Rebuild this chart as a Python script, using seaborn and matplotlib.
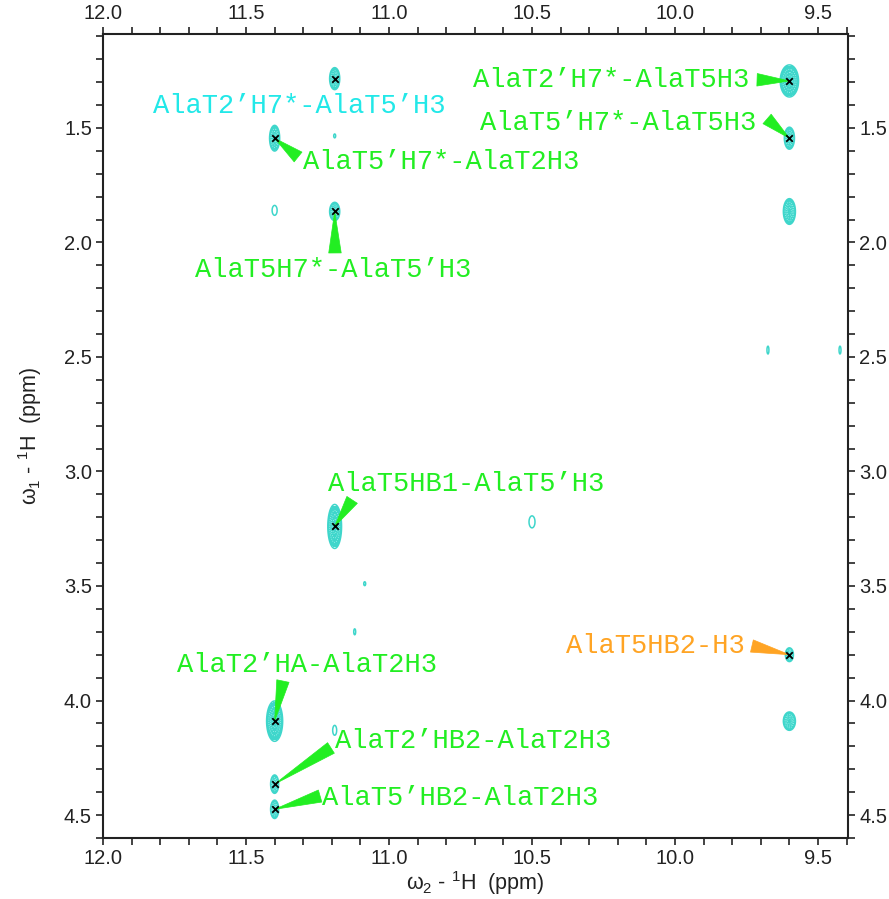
import numpy as np
import matplotlib
matplotlib.use("Agg")
import matplotlib.pyplot as plt
from matplotlib.ticker import MultipleLocator, FormatStrFormatter
import seaborn as sns
import pandas as pd

# Cross peaks: direct (w2) and indirect (w1) chemical shifts in ppm,
# relative height and Gaussian line widths (sd, ppm) along each dimension
peak_w2 = [11.19, 11.40, 11.40, 11.19, 11.19, 9.60, 9.60, 9.60, 9.675, 9.423,
           11.19, 10.50, 11.085, 11.12, 9.60, 9.60, 11.40, 11.19, 11.40, 11.40]
peak_w1 = [1.285, 1.545, 1.86, 1.865, 1.535, 1.295, 1.545, 1.865, 2.47, 2.47,
           3.24, 3.22, 3.49, 3.70, 3.80, 4.09, 4.09, 4.13, 4.365, 4.475]
peak_height = [7.4, 7.4, 1.15, 7.4, 1.15, 7.4, 7.4, 7.4, 1.15, 1.15,
               7.4, 1.15, 1.15, 1.15, 7.4, 7.4, 7.4, 1.15, 7.4, 7.4]
peak_sd2 = [0.0088, 0.0088, 0.0166, 0.0088, 0.0066, 0.016, 0.0088, 0.0105, 0.0066, 0.0066,
            0.012, 0.0198, 0.0066, 0.0066, 0.007, 0.0105, 0.014, 0.0132, 0.007, 0.007]
peak_sd1 = [0.024, 0.028, 0.041, 0.020, 0.0165, 0.035, 0.024, 0.028, 0.033, 0.033,
            0.048, 0.0496, 0.0165, 0.025, 0.015, 0.020, 0.044, 0.041, 0.020, 0.020]

# Assigned cross peaks
assign_labels = ["AlaT2’H7*-AlaT5’H3", "AlaT5’H7*-AlaT2H3", "AlaT5H7*-AlaT5’H3",
                 "AlaT2’H7*-AlaT5H3", "AlaT5’H7*-AlaT5H3", "AlaT5HB1-AlaT5’H3",
                 "AlaT5HB2-H3", "AlaT2’HA-AlaT2H3", "AlaT2’HB2-AlaT2H3",
                 "AlaT5’HB2-AlaT2H3"]
assign_w2 = [11.19, 11.40, 11.19, 9.60, 9.60, 11.19, 9.60, 11.40, 11.40, 11.40]
assign_w1 = [1.285, 1.545, 1.865, 1.295, 1.545, 3.24, 3.80, 4.09, 4.365, 4.475]

# Label placement (ppm) and where each pointer wedge starts
label_xy = [(11.825, 1.404), (11.301, 1.648), (11.678, 2.120), (10.706, 1.290),
            (10.682, 1.478), (11.213, 3.055), (10.381, 3.762), (11.741, 3.845),
            (11.189, 4.177), (11.234, 4.426)]
wedge_from = [None, (11.318, 1.627), (11.189, 2.046), (9.713, 1.290),
              (9.678, 1.461), (11.129, 3.124), (9.731, 3.762), (11.371, 3.915),
              (11.203, 4.207), (11.241, 4.417)]

CYAN = "#22e8e8"
GREEN = "#22ee22"
ORANGE = "#ffa424"
TURQ = "#3fd6cb"
label_colors = [CYAN] + [GREEN] * 5 + [ORANGE] + [GREEN] * 3

sns.set_theme(style="ticks")
plt.rcParams["font.family"] = ["Liberation Sans", "DejaVu Sans"]
plt.rcParams["mathtext.fontset"] = "custom"
plt.rcParams["mathtext.rm"] = "Liberation Sans"
plt.rcParams["mathtext.it"] = "Liberation Sans:italic"

fig = plt.figure(figsize=(8.89, 8.99), dpi=100)
ax = fig.add_axes([0.1159, 0.0679, 0.838, 0.8943])

# Spectrum surface from the peak table
gx = np.linspace(9.35, 12.05, 1400)
gy = np.linspace(1.05, 4.65, 1300)
X, Y = np.meshgrid(gx, gy)
Z = np.zeros_like(X)
for x0, y0, h, s2, s1 in zip(peak_w2, peak_w1, peak_height, peak_sd2, peak_sd1):
    Z += h * np.exp(-0.5 * (((X - x0) / s2) ** 2 + ((Y - y0) / s1) ** 2))

ax.contourf(X, Y, Z, levels=[1.35, 1e6], colors=[TURQ])
ax.contour(X, Y, Z, levels=[1.0], colors=[TURQ], linewidths=1.1)
ax.contour(X, Y, Z, levels=[2.6, 4.2, 6.0], colors=["#a8f4ee"], linewidths=0.6,
           linestyles=":")

# Assigned peak markers
df = pd.DataFrame({"w2": assign_w2, "w1": assign_w1})
sns.scatterplot(data=df, x="w2", y="w1", marker="x", color="black", s=22,
                linewidth=1.3, ax=ax, zorder=5, legend=False)

# Pointer wedges and labels
for lab, (tx, ty), src, col, x0, y0 in zip(assign_labels, label_xy, wedge_from,
                                          label_colors, assign_w2, assign_w1):
    if src is not None:
        ax.annotate("", xy=(x0, y0), xytext=src,
                    arrowprops=dict(arrowstyle="wedge,tail_width=0.9,shrink_factor=0.5",
                                    fc=col, ec=col, lw=0.5, shrinkA=0, shrinkB=0,
                                    mutation_scale=10), zorder=4)
    ax.text(tx, ty, lab, color=col, ha="left", va="center", fontsize=19.5,
            family=["Liberation Mono", "DejaVu Sans Mono"], zorder=6)

ax.set_xlim(12.0, 9.395)
ax.set_ylim(4.6, 1.09)
ax.xaxis.set_major_locator(MultipleLocator(0.5))
ax.xaxis.set_minor_locator(MultipleLocator(0.1))
ax.yaxis.set_major_locator(MultipleLocator(0.5))
ax.yaxis.set_minor_locator(MultipleLocator(0.1))
ax.xaxis.set_major_formatter(FormatStrFormatter("%.1f"))
ax.yaxis.set_major_formatter(FormatStrFormatter("%.1f"))

ax.tick_params(which="both", direction="out", top=True, right=True,
               labeltop=True, labelright=True, color="#222222", width=1.2)
ax.tick_params(which="major", length=5, labelsize=14.5, labelcolor="#222222", pad=3)
ax.tick_params(which="minor", length=5)
for sp in ax.spines.values():
    sp.set_visible(True)
    sp.set_color("#222222")
    sp.set_linewidth(1.5)

ax.set_xlabel("ω$_2$ - $^1$H  (ppm)", fontsize=15.5, color="#222222", labelpad=1)
ax.set_ylabel("ω$_1$ - $^1$H  (ppm)", fontsize=15.5, color="#222222", labelpad=14)

fig.savefig("out.png", dpi=100, facecolor="white")
